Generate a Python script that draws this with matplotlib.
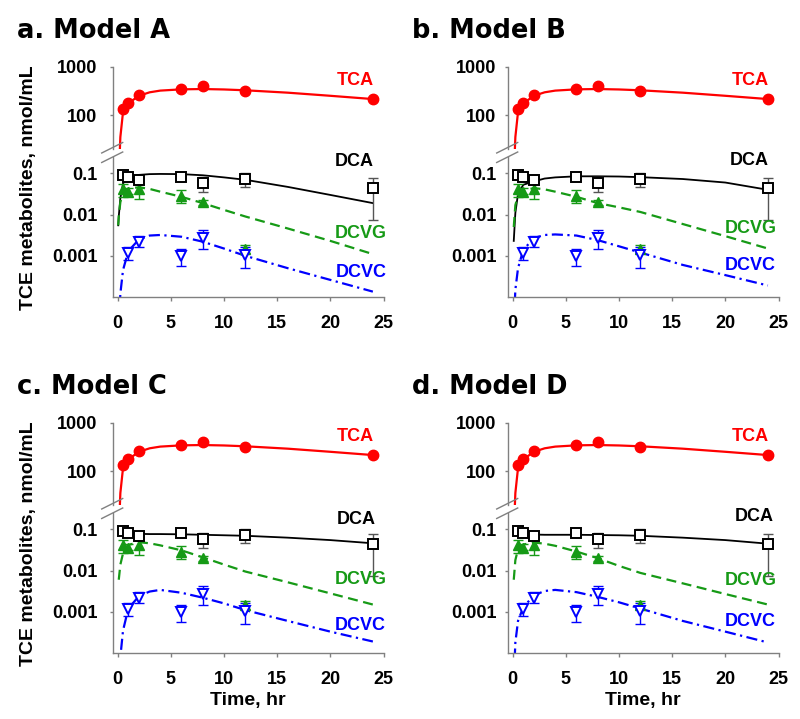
import numpy as np
import matplotlib
matplotlib.use("Agg")
import matplotlib.pyplot as plt
from matplotlib.lines import Line2D

# ---------------- data ----------------
obs_t = [0.5, 1, 2, 6, 8, 12, 24]
tca_obs = [135, 175, 258, 345, 390, 318, 214]
dca_obs = [0.090, 0.082, 0.071, 0.082, 0.059, 0.075, 0.044]
dca_lo = [0.085, 0.078, 0.066, 0.078, 0.036, 0.046, 0.0072]
dca_hi = [0.096, 0.087, 0.076, 0.087, 0.082, 0.105, 0.078]

dcvg_t = [0.5, 1, 2, 6, 8, 12]
dcvg_obs = [0.041, 0.036, 0.041, 0.028, 0.0205, 0.0015]
dcvg_lo = [0.026, 0.031, 0.024, 0.019, 0.017, 0.0012]
dcvg_hi = [0.055, 0.044, 0.055, 0.039, 0.023, 0.0018]

dcvc_t = [1, 2, 6, 8, 12]
dcvc_obs = [0.00115, 0.0022, 0.0010, 0.0027, 0.00105]
dcvc_lo = [0.0008, 0.0016, 0.00055, 0.0015, 0.0005]
dcvc_hi = [0.0016, 0.0030, 0.0015, 0.0042, 0.0016]

nan = np.nan
model_t = [0.05, 0.1, 0.25, 0.5, 1, 2, 3, 4, 6, 8, 10, 12, 16, 20, 24]
tca_model = [2, 5, 35, 115, 175, 250, 295, 320, 340, 345, 338, 325, 290, 250, 214]

dca_model_a = [0.0055, 0.009, 0.025, 0.057, 0.080, 0.092, 0.096, 0.097, 0.096, 0.090, 0.080, 0.070, 0.047, 0.030, 0.019]
dcvg_model_a = [0.0055, 0.009, 0.020, 0.034, 0.043, 0.046, 0.042, 0.036, 0.027, 0.019, 0.013, 0.009, 0.0046, 0.0023, 0.0011]
dcvc_model_a = [1e-6, 2e-5, 0.00012, 0.00045, 0.0013, 0.0025, 0.0031, 0.0032, 0.0029, 0.0022, 0.0015, 0.0010, 0.0005, 0.00026, 0.000135]

dca_model_b = [nan, 0.0023, 0.011, 0.032, 0.053, 0.064, 0.075, 0.080, 0.085, 0.085, 0.084, 0.081, 0.073, 0.060, 0.040]
dcvg_model_b = [nan, 0.005, 0.017, 0.029, 0.039, 0.044, 0.041, 0.036, 0.027, 0.019, 0.015, 0.0116, 0.0059, 0.0030, 0.0015]
dcvc_model_b = [nan, 2e-5, 0.00015, 0.0005, 0.0014, 0.0027, 0.0032, 0.0033, 0.0031, 0.0024, 0.0017, 0.0012, 0.0006, 0.00034, 0.00019]

dca_model_c = [nan, nan, 0.092, 0.087, 0.082, 0.078, 0.077, 0.077, 0.076, 0.074, 0.072, 0.070, 0.063, 0.055, 0.046]
dcvg_model_c = [nan, 0.006, 0.014, 0.026, 0.042, 0.049, 0.046, 0.041, 0.031, 0.021, 0.014, 0.0095, 0.0052, 0.0028, 0.0015]
dcvc_model_c = [nan, 1e-5, 0.00008, 0.00035, 0.0012, 0.0024, 0.0031, 0.0034, 0.0029, 0.0022, 0.0016, 0.0011, 0.0006, 0.00033, 0.00019]

dca_model_d = [nan, nan, 0.088, 0.084, 0.078, 0.075, 0.074, 0.074, 0.074, 0.073, 0.072, 0.070, 0.063, 0.055, 0.045]
dcvg_model_d = [nan, 0.006, 0.018, 0.033, 0.043, 0.048, 0.045, 0.040, 0.029, 0.020, 0.013, 0.0088, 0.0049, 0.0027, 0.0015]
dcvc_model_d = [nan, 2e-5, 0.00018, 0.0006, 0.0013, 0.0025, 0.0032, 0.0034, 0.0030, 0.0023, 0.0017, 0.0012, 0.0006, 0.00033, 0.00018]

titles = ["a. Model A", "b. Model B", "c. Model C", "d. Model D"]
x_ticks = [0, 5, 10, 15, 20, 25]
low_ticks = [0.001, 0.01, 0.1]
low_labels = ["0.001", "0.01", "0.1"]
up_ticks = [100, 1000]
up_labels = ["100", "1000"]

# ---------------- styling ----------------
RED = "#ff0000"
GREEN = "#169a16"
BLUE = "#0000ff"
GRAY = "#808080"
TICKFONT = dict(family="Liberation Sans", weight="bold", size=13)

W, H = 800, 719
fig = plt.figure(figsize=(W / 100, H / 100), dpi=100)


def rect(x0, ytop, x1, ybot):
    return [x0 / W, 1 - ybot / H, (x1 - x0) / W, (ybot - ytop) / H]


panels = [
    dict(dx=0, dy=0, title=titles[0], dca=dca_model_a, dcvg=dcvg_model_a, dcvc=dcvc_model_a,
         lab=dict(TCA=(20.6, 530), DCA=(20.4, 0.19), DCVG=(20.4, 0.0034), DCVC=(20.5, 0.0004)), pad=8.5,
         ylabel=True, xlabel=False),
    dict(dx=395, dy=0, title=titles[1], dca=dca_model_b, dcvg=dcvg_model_b, dcvc=dcvc_model_b,
         lab=dict(TCA=(20.6, 530), DCA=(20.4, 0.2), DCVG=(19.95, 0.0046), DCVC=(19.95, 0.00057)), pad=5.5,
         ylabel=False, xlabel=False),
    dict(dx=0, dy=356, title=titles[2], dca=dca_model_c, dcvg=dcvg_model_c, dcvc=dcvc_model_c,
         lab=dict(TCA=(20.6, 530), DCA=(20.6, 0.17), DCVG=(20.4, 0.0062), DCVC=(20.4, 0.00046)), pad=8.5,
         ylabel=True, xlabel=True),
    dict(dx=395, dy=356, title=titles[3], dca=dca_model_d, dcvg=dcvg_model_d, dcvc=dcvc_model_d,
         lab=dict(TCA=(20.6, 530), DCA=(20.9, 0.21), DCVG=(19.95, 0.0057), DCVC=(19.95, 0.00058)), pad=5.5,
         ylabel=False, xlabel=True),
]

XL, XR = 112.7, 383.5
LOW_TOP, LOW_BOT = 157, 297
UP_TOP, UP_BOT = 66.7, 148.8

for p in panels:
    dx, dy = p["dx"], p["dy"]
    axl = fig.add_axes(rect(XL + dx, LOW_TOP + dy, XR + dx, LOW_BOT + dy))
    axu = fig.add_axes(rect(XL + dx, UP_TOP + dy, XR + dx, UP_BOT + dy))

    for ax in (axl, axu):
        ax.set_xlim(-0.47, 25.0)
        ax.set_yscale("log")
        ax.patch.set_alpha(0)
        for s in ("top", "right"):
            ax.spines[s].set_visible(False)
        ax.spines["left"].set_color(GRAY)
        ax.spines["left"].set_linewidth(1.0)
        ax.minorticks_off()
    axl.set_ylim(1e-4, 0.25)
    axu.set_ylim(20, 1000)
    axl.spines["bottom"].set_color(GRAY)
    axl.spines["bottom"].set_linewidth(1.0)
    axu.spines["bottom"].set_visible(False)

    axl.set_xticks(x_ticks)
    axl.set_xticklabels([str(v) for v in x_ticks], fontdict=TICKFONT)
    axl.set_yticks(low_ticks)
    axl.set_yticklabels(low_labels, fontdict=TICKFONT)
    axl.yaxis.set_minor_locator(matplotlib.ticker.NullLocator())
    axl.tick_params(axis="x", direction="out", length=3, width=1, color=GRAY, pad=10)
    axl.tick_params(axis="y", direction="out", length=2.5, width=1, color=GRAY, pad=p["pad"])

    axu.set_xticks([])
    axu.set_yticks(up_ticks)
    axu.set_yticklabels(up_labels, fontdict=TICKFONT)
    axu.yaxis.set_minor_locator(matplotlib.ticker.NullLocator())
    axu.tick_params(axis="y", direction="out", length=2.5, width=1, color=GRAY, pad=p["pad"])

    # TCA
    axu.plot(model_t, tca_model, color=RED, lw=1.6, zorder=2, clip_on=True)
    axu.plot(obs_t, tca_obs, "o", color=RED, ms=7.5, zorder=4)

    # DCA
    axl.plot(model_t, p["dca"], color="black", lw=1.3, zorder=2)
    axl.errorbar(obs_t, dca_obs,
                 yerr=[np.subtract(dca_obs, dca_lo), np.subtract(dca_hi, dca_obs)],
                 fmt="none", ecolor="#555555", elinewidth=1, capsize=3.5, capthick=1, zorder=3)
    axl.plot(obs_t, dca_obs, "s", mfc="white", mec="black", mew=1.4, ms=6.5, zorder=5)

    # DCVG
    axl.plot(model_t, p["dcvg"], color=GREEN, lw=1.6, ls=(0, (4.5, 2.5)), zorder=2)
    axl.errorbar(dcvg_t, dcvg_obs,
                 yerr=[np.subtract(dcvg_obs, dcvg_lo), np.subtract(dcvg_hi, dcvg_obs)],
                 fmt="none", ecolor=GREEN, elinewidth=1, capsize=3.5, capthick=1, zorder=3)
    axl.plot(dcvg_t, dcvg_obs, "^", color=GREEN, ms=7.5, zorder=4)

    # DCVC
    axl.plot(model_t, p["dcvc"], color=BLUE, lw=1.6, ls=(0, (5, 2, 1, 2)), zorder=2)
    axl.errorbar(dcvc_t, dcvc_obs,
                 yerr=[np.subtract(dcvc_obs, dcvc_lo), np.subtract(dcvc_hi, dcvc_obs)],
                 fmt="none", ecolor=BLUE, elinewidth=1, capsize=3.5, capthick=1, zorder=3)
    axl.plot(dcvc_t, dcvc_obs, "v", mfc="white", mec=BLUE, mew=1.4, ms=7.5, zorder=5)

    lab = p["lab"]
    lf = dict(family="Liberation Sans", weight="bold", size=13, ha="left", va="center")
    axu.text(*lab["TCA"], "TCA", color=RED, **lf)
    axl.text(*lab["DCA"], "DCA", color="black", **lf)
    axl.text(*lab["DCVG"], "DCVG", color=GREEN, **lf)
    axl.text(*lab["DCVC"], "DCVC", color=BLUE, **lf)

    # axis break marks
    cx = XL + dx
    for cy in (147.5 + dy, 157 + dy):
        fig.add_artist(Line2D([(cx - 11) / W, (cx + 10) / W],
                              [1 - (cy + 5.5) / H, 1 - (cy - 5) / H],
                              color=GRAY, lw=1.0))

    # title
    fig.text((17 + (395 if dx else 0)) / W, 1 - (38.3 + dy) / H, p["title"],
             family="DejaVu Sans", weight="bold", size=18.5, ha="left", va="baseline")

    if p["ylabel"]:
        fig.text(28 / W, 1 - (188 + dy) / H, "TCE metabolites, nmol/mL",
                 family="Liberation Sans", weight="bold", size=14, rotation=90,
                 ha="center", va="center")
    if p["xlabel"]:
        fig.text((XL + XR) / 2 / W + dx / W, 1 - 700.5 / H, "Time, hr",
                 family="Liberation Sans", weight="bold", size=14, ha="center", va="center")

fig.savefig("out.png", dpi=100)
